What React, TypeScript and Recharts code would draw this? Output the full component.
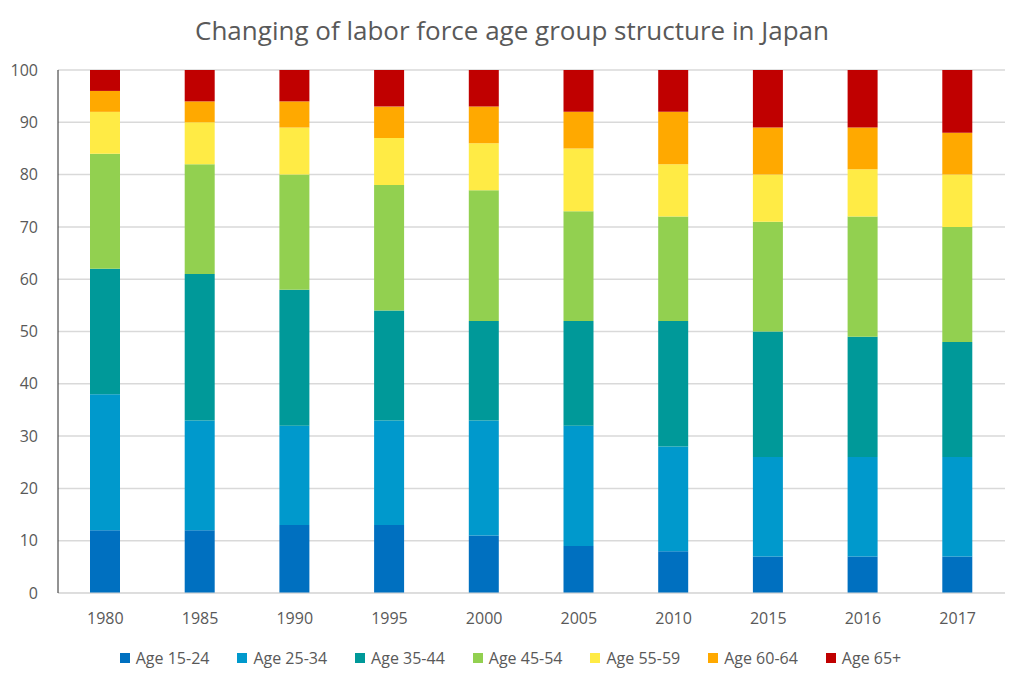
import { Bar, BarChart, CartesianGrid, Legend, XAxis, YAxis } from "recharts"

const years = ["1980", "1985", "1990", "1995", "2000", "2005", "2010", "2015", "2016", "2017"]
const age1524 = [12, 12, 13, 13, 11, 9, 8, 7, 7, 7]
const age2534 = [26, 21, 19, 20, 22, 23, 20, 19, 19, 19]
const age3544 = [24, 28, 26, 21, 19, 20, 24, 24, 23, 22]
const age4554 = [22, 21, 22, 24, 25, 21, 20, 21, 23, 22]
const age5559 = [8, 8, 9, 9, 9, 12, 10, 9, 9, 10]
const age6064 = [4, 4, 5, 6, 7, 7, 10, 9, 8, 8]
const age65 = [4, 6, 6, 7, 7, 8, 8, 11, 11, 12]
const yTicks = [0, 10, 20, 30, 40, 50, 60, 70, 80, 90, 100]

const series = [
    { key: "a1524", name: "Age 15-24", values: age1524, color: "#0070C0" },
    { key: "a2534", name: "Age 25-34", values: age2534, color: "#0099CC" },
    { key: "a3544", name: "Age 35-44", values: age3544, color: "#009999" },
    { key: "a4554", name: "Age 45-54", values: age4554, color: "#92D050" },
    { key: "a5559", name: "Age 55-59", values: age5559, color: "#FFEB45" },
    { key: "a6064", name: "Age 60-64", values: age6064, color: "#FFA900" },
    { key: "a65", name: "Age 65+", values: age65, color: "#C00000" },
]

const data = years.map((year, i) => {
    const row: Record<string, string | number> = { year }
    series.forEach((s) => { row[s.key] = s.values[i] })
    return row
})

const font = "'Open Sans', sans-serif"

// legend drawn by hand so spacing matches the excel look
const LegendRow = () => (
    <div style={{ display: "flex", justifyContent: "center", gap: 28, paddingTop: 14, paddingLeft: 16 }}>
        {series.map((s) => (
            <div key={s.key} style={{ display: "flex", alignItems: "center" }}>
                <span style={{ width: 10, height: 10, background: s.color, marginRight: 6, display: "inline-block" }} />
                <span style={{ color: "#595959", fontSize: 16, fontFamily: font }}>{s.name}</span>
            </div>
        ))}
    </div>
)

const App = () => {
    return (
        <div style={{ position: "absolute", left: 0, top: 0, width: 1024, height: 682, background: "#fff", fontFamily: font }}>
            <div style={{ position: "absolute", top: 12, width: 1024, textAlign: "center", fontSize: 26, color: "#595959" }}>
                Changing of labor force age group structure in Japan
            </div>
            <BarChart width={1024} height={682} data={data} margin={{ top: 70, right: 19, bottom: 0, left: 0 }}>
                <CartesianGrid vertical={false} stroke="#d9d9d9" strokeWidth={1.5} />
                <XAxis dataKey="year" height={40} tickLine={false} axisLine={{ stroke: "#d9d9d9" }}
                    tick={{ fill: "#595959", fontSize: 16 }} tickMargin={14} />
                <XAxis xAxisId="top" orientation="top" dataKey="year" height={0} tick={false} tickLine={false}
                    axisLine={{ stroke: "#404040" }} />
                <YAxis domain={[0, 100]} ticks={yTicks} width={58} tickLine={false} axisLine={{ stroke: "#262626" }}
                    tick={{ fill: "#595959", fontSize: 16 }} tickMargin={14} />
                <YAxis yAxisId="right" orientation="right" domain={[0, 100]} width={0} tick={false} tickLine={false}
                    axisLine={{ stroke: "#404040" }} />
                <Legend height={49} verticalAlign="bottom" content={() => <LegendRow />} />
                {series.map((s) => (
                    <Bar key={s.key} dataKey={s.key} name={s.name} stackId="a" fill={s.color} barSize={30}
                        isAnimationActive={false} />
                ))}
            </BarChart>
        </div>
    )
}

export default App
